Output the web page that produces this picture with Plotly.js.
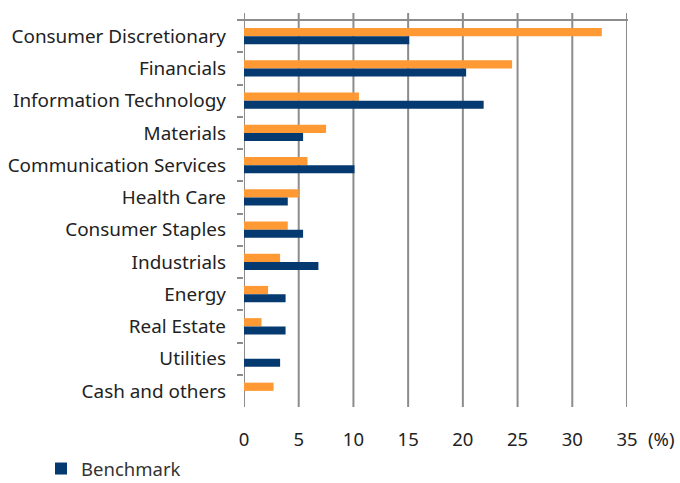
<!DOCTYPE html>
<html>
<head>
<meta charset="utf-8">
<script src="https://cdn.plot.ly/plotly-3.0.1.min.js"></script>
<style>html,body{margin:0;padding:0;background:#fff;}#chart{width:680px;height:483px;}</style>
</head>
<body>
<div id="chart"></div>
<script>
const categories = ["Consumer Discretionary","Financials","Information Technology","Materials","Communication Services","Health Care","Consumer Staples","Industrials","Energy","Real Estate","Utilities","Cash and others"];
const fundValues = [32.7, 24.5, 10.5, 7.5, 5.8, 5.0, 4.0, 3.3, 2.2, 1.6, 0, 2.7];
const benchmarkValues = [15.1, 20.3, 21.9, 5.4, 10.1, 4.0, 5.4, 6.8, 3.8, 3.8, 3.3, 0];
const xTicks = [0, 5, 10, 15, 20, 25, 30, 35];

const font = "'Noto Sans', 'Open Sans', sans-serif";
const gridColor = "#8c8c8c";

const traces = [
  {type: "bar", orientation: "h", name: "Fund", y: categories, x: fundValues,
   marker: {color: "#FF9933"}, showlegend: false, hoverinfo: "x+y"},
  {type: "bar", orientation: "h", name: "Benchmark", y: categories, x: benchmarkValues,
   marker: {color: "#053A70"}, showlegend: true, hoverinfo: "x+y"}
];

const shapes = xTicks.map(v => ({
  type: "line", xref: "x", yref: "paper", x0: v, x1: v, y0: 0, y1: 1 + 7/387,
  line: {color: gridColor, width: 2}, layer: "below"
}));
shapes.push({type: "line", xref: "paper", yref: "paper", x0: -6/382.7, x1: 1 + 1/382.7, y0: 1, y1: 1,
  line: {color: gridColor, width: 2}, layer: "below"});

const layout = {
  width: 680, height: 483,
  margin: {l: 244, r: 53, t: 20, b: 76, autoexpand: false},
  paper_bgcolor: "#fff", plot_bgcolor: "#fff",
  barmode: "group", bargap: 0.49, bargroupgap: 0,
  font: {family: font, color: "#222"},
  xaxis: {range: [0, 35], tickvals: xTicks, showgrid: false, zeroline: false, showline: false,
    ticks: "outside", ticklen: 16, tickcolor: "rgba(0,0,0,0)", tickfont: {size: 18.5, color: "#222", family: font}},
  yaxis: {type: "category", autorange: "reversed", showgrid: false, zeroline: false, showline: false,
    ticks: "outside", tickson: "boundaries", ticklen: 6, tickwidth: 2, tickcolor: gridColor,
    ticklabelstandoff: 17, tickfont: {size: 18.9, color: "#222", family: font}},
  shapes: shapes,
  annotations: [{xref: "paper", yref: "paper", x: 1.05, y: -31/387, xanchor: "left", yanchor: "middle",
    text: "(%)", showarrow: false, font: {size: 18.5, color: "#222", family: font}}],
  legend: {orientation: "h", x: -0.53, y: -81/387, xanchor: "left", yanchor: "bottom",
    font: {size: 18.5, color: "#333", family: font}, bgcolor: "rgba(0,0,0,0)"}
};

Plotly.newPlot("chart", traces, layout, {displayModeBar: false, staticPlot: true});
</script>
</body>
</html>
